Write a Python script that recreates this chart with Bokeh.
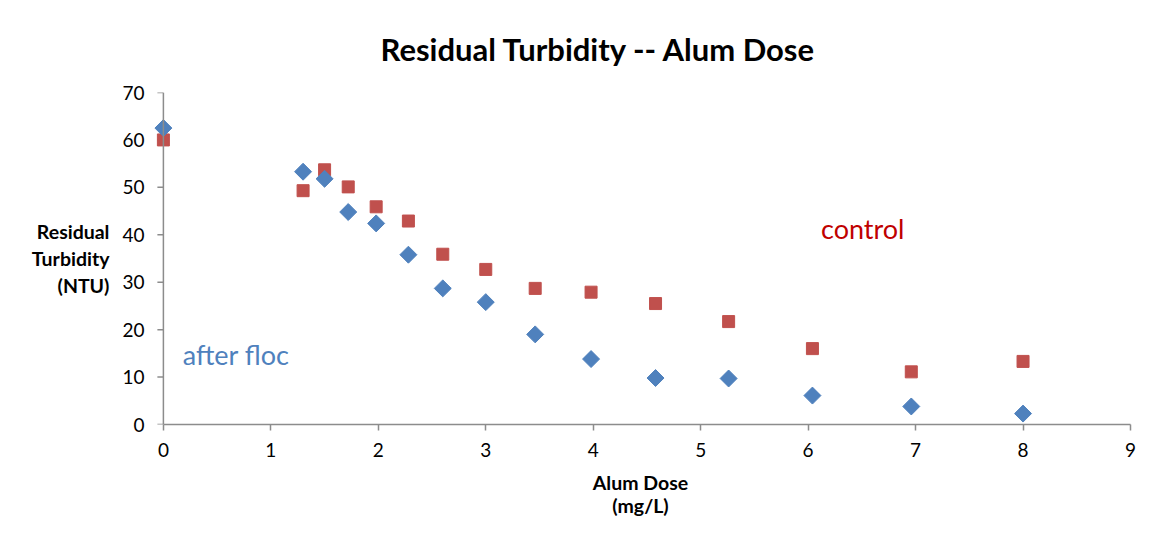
import math
from bokeh.plotting import figure
from bokeh.models import Range1d, Label, FixedTicker, Title, Span
from bokeh.embed import file_html
from bokeh.resources import INLINE

dose = [0, 1.3, 1.5, 1.72, 1.98, 2.28, 2.6, 3.0, 3.46, 3.98, 4.58, 5.26, 6.04, 6.96, 8.0]
after_floc = [62.5, 53.3, 51.8, 44.8, 42.4, 35.8, 28.7, 25.8, 19.0, 13.8, 9.8, 9.7, 6.1, 3.8, 2.3]
control = [60.0, 49.3, 53.7, 50.1, 45.9, 42.9, 35.9, 32.7, 28.7, 27.9, 25.5, 21.7, 16.0, 11.1, 13.3]
x_ticks = [0, 1, 2, 3, 4, 5, 6, 7, 8, 9]
y_ticks = [0, 10, 20, 30, 40, 50, 60, 70]

FONT = "Lato"
BLUE = "#4f81bd"
RED = "#c0504d"
AXIS = "#8c8c8c"

p = figure(width=1146, height=534, output_backend="svg", toolbar_location=None,
           x_range=Range1d(-0.12, 9), y_range=Range1d(0, 70),
           min_border_left=150, min_border_right=16, min_border_top=92, min_border_bottom=110)
p.title = None
p.add_layout(Title(text="Residual Turbidity -- Alum Dose", text_font=FONT, text_font_size="31px",
                   text_font_style="bold", align="left", offset=230, text_color="#000000",
                   standoff=50), "above")

p.grid.visible = False
p.outline_line_color = None
p.background_fill_color = "white"
p.border_fill_color = "white"

for ax in (p.xaxis[0], p.yaxis[0]):
    ax.axis_line_color = AXIS
    ax.axis_line_width = 1.5
    ax.major_tick_line_color = AXIS
    ax.major_tick_line_width = 1.5
    ax.major_tick_in = 0
    ax.major_tick_out = 6
    ax.minor_tick_line_color = None
    ax.major_label_text_font = FONT
    ax.major_label_text_font_size = "19px"
    ax.major_label_text_color = "#000000"
    ax.axis_label_text_font = FONT
    ax.axis_label_text_font_size = "19.5px"
    ax.axis_label_text_font_style = "bold"
    ax.axis_label_text_color = "#000000"
    ax.axis_label_text_line_height = 1.0

p.xaxis.ticker = FixedTicker(ticks=x_ticks)
p.yaxis.ticker = FixedTicker(ticks=y_ticks)
p.xaxis.bounds = (0, 9)
p.xaxis.major_label_standoff = 12
p.xaxis.axis_label = "Alum Dose\n(mg/L)"
p.xaxis.axis_label_standoff = 11

# y axis: labels from the axis, line and ticks drawn at x = 0
p.yaxis.axis_line_color = None
p.yaxis.major_tick_line_color = None
p.yaxis.major_tick_out = 0
p.yaxis.major_label_standoff = 6
p.yaxis.axis_label = "Residual\nTurbidity\n(NTU)"
p.yaxis.axis_label_orientation = "horizontal"
p.yaxis.axis_label_standoff = 10
p.yaxis.axis_label_text_align = "center"
p.yaxis.axis_label_text_line_height = 1.18

p.add_layout(Span(location=0, dimension="height", line_color=AXIS, line_width=1.5))
p.ray(x=[0] * len(y_ticks), y=y_ticks, length=6, length_units="screen", angle=math.pi,
      line_color=AXIS, line_width=1.5)

p.scatter(dose, control, marker="square", size=12, fill_color=RED, line_color=RED)
p.scatter(dose, after_floc, marker="square", size=12, angle=math.pi / 4,
          fill_color=BLUE, line_color=BLUE)

p.add_layout(Label(x=0.18, y=14.8, text="after floc", text_font=FONT, text_font_size="27px",
                   text_color=BLUE, text_baseline="middle"))
p.add_layout(Label(x=6.12, y=41.3, text="control", text_font=FONT, text_font_size="27px",
                   text_color="#c00000", text_baseline="middle"))

open("out.html", "w").write(file_html(p, INLINE))
